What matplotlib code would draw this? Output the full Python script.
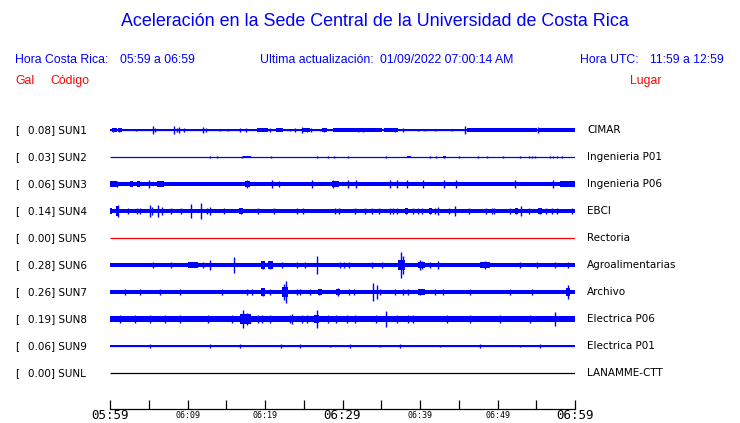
import matplotlib
matplotlib.use("Agg")
import matplotlib.pyplot as plt
from matplotlib.transforms import blended_transform_factory

# ---------------- data ----------------
stations = ["SUN1", "SUN2", "SUN3", "SUN4", "SUN5", "SUN6", "SUN7", "SUN8", "SUN9", "SUNL"]
peaks = [0.08, 0.03, 0.06, 0.14, 0.00, 0.28, 0.26, 0.19, 0.06, 0.00]
places = ["CIMAR", "Ingenieria P01", "Ingenieria P06", "EBCI", "Rectoria",
          "Agroalimentarias", "Archivo", "Electrica P06", "Electrica P01", "LANAMME-CTT"]
trace_colors = ["#0000ff"] * 4 + ["#ff0000"] + ["#0000ff"] * 4 + ["#000000"]
# background noise half-amplitude (in trace units, one trace spacing = 1)
noise = [0.035, 0.0, 0.09, 0.09, 0.0, 0.085, 0.085, 0.1, 0.035, 0.0]

# minutes since 05:59
tick_minutes = [0, 5, 10, 15, 20, 25, 30, 35, 40, 45, 50, 55, 60]
tick_labels = {0: "05:59", 10: "06:09", 20: "06:19", 30: "06:29",
               40: "06:39", 50: "06:49", 60: "06:59"}
major_labels = [0, 30, 60]

# spikes (time in minutes, half-amplitude) and bursts (start, end, half-amplitude)
sun1_t = [0.4, 1.2, 3.4, 5.5, 5.8, 8.3, 8.6, 8.9, 9.5, 12.0, 12.4, 14.2, 15.2, 16.8, 17.5,
          20.6, 23.2, 23.9, 24.8, 25.4, 25.9, 27.1, 27.6, 32.0, 32.6, 34.8, 36.8, 37.8,
          39.7, 40.6, 41.9, 44.1, 45.8, 51.6, 52.9, 55.2]
sun1_a = [0.06, 0.06, 0.04, 0.15, 0.08, 0.15, 0.08, 0.10, 0.06, 0.10, 0.06, 0.05, 0.05,
          0.06, 0.06, 0.06, 0.05, 0.06, 0.10, 0.07, 0.06, 0.05, 0.06, 0.08, 0.06, 0.05,
          0.06, 0.08, 0.05, 0.05, 0.05, 0.05, 0.15, 0.05, 0.05, 0.10]
sun1_b = [(0.3, 0.9, 0.065), (1.0, 1.5, 0.065), (19.0, 20.4, 0.075), (21.4, 22.3, 0.075),
          (24.8, 25.8, 0.075), (27.4, 28.0, 0.065), (28.8, 35.1, 0.075), (35.4, 37.2, 0.075),
          (46.0, 55.1, 0.075), (55.2, 60.0, 0.075)]

sun2_t = [12.9, 13.8, 17.0, 20.8, 26.7, 28.1, 28.9, 30.7, 35.6, 41.3, 42.1, 43.1, 45.0,
          47.5, 48.6, 50.7, 52.9, 54.1, 54.5, 54.8, 56.8, 57.2, 57.7, 58.3]
sun2_a = [0.05, 0.03, 0.05, 0.05, 0.02, 0.05, 0.05, 0.03, 0.03, 0.04, 0.02, 0.05, 0.03,
          0.03, 0.02, 0.03, 0.02, 0.04, 0.04, 0.04, 0.04, 0.03, 0.04, 0.03]
sun2_b = [(17.2, 18.2, 0.045), (38.3, 38.8, 0.045), (43.0, 43.4, 0.045)]

sun3_t = [0.9, 5.0, 17.7, 20.9, 21.8, 26.1, 28.8, 30.7, 31.7, 36.1, 37.0, 38.3, 40.4,
          43.1, 44.6, 52.3, 57.2]
sun3_a = [0.12, 0.13, 0.16, 0.13, 0.12, 0.13, 0.14, 0.13, 0.15, 0.13, 0.14, 0.15, 0.13,
          0.13, 0.15, 0.13, 0.13]
sun3_b = [(0.0, 0.9, 0.1), (2.6, 3.0, 0.1), (3.5, 3.9, 0.1), (6.0, 7.0, 0.1),
          (17.4, 18.0, 0.12), (28.6, 29.6, 0.11), (58.0, 60.0, 0.105)]

sun4_t = [1.0, 2.3, 3.5, 3.9, 5.2, 5.4, 6.2, 6.7, 7.9, 9.2, 10.5, 11.7, 12.5, 12.9, 14.7,
          16.9, 19.1, 21.2, 24.1, 24.9, 29.0, 29.5, 31.6, 32.9, 33.8, 34.7, 36.1, 36.5,
          37.0, 38.2, 39.1, 39.7, 40.3, 41.3, 41.9, 42.3, 43.7, 44.5, 46.3, 48.5, 49.3,
          49.5, 51.6, 52.4, 53.0, 54.1, 55.5, 56.3, 57.0, 57.7, 59.6]
sun4_a = [0.22, 0.12, 0.12, 0.11, 0.22, 0.15, 0.22, 0.15, 0.11, 0.11, 0.25, 0.30, 0.12,
          0.15, 0.11, 0.12, 0.11, 0.11, 0.11, 0.11, 0.12, 0.12, 0.11, 0.11, 0.11, 0.11,
          0.11, 0.11, 0.11, 0.11, 0.11, 0.12, 0.11, 0.12, 0.11, 0.15, 0.11, 0.18, 0.11,
          0.12, 0.11, 0.11, 0.11, 0.11, 0.18, 0.11, 0.12, 0.11, 0.11, 0.11, 0.12]
sun4_b = [(0.0, 0.3, 0.1), (0.8, 1.2, 0.18), (16.6, 17.2, 0.11), (38.0, 38.5, 0.1),
          (41.1, 41.6, 0.11), (52.2, 52.7, 0.1), (55.2, 55.8, 0.11)]

sun5_t, sun5_a, sun5_b = [], [], []

sun6_t = [5.5, 7.9, 12.0, 12.9, 16.0, 19.7, 20.6, 20.9, 22.2, 24.1, 25.2, 26.7, 29.7,
          30.2, 30.8, 33.8, 35.1, 37.5, 37.8, 40.0, 40.3, 41.3, 42.3, 48.4, 52.9, 55.1,
          57.4, 59.1]
sun6_a = [0.1, 0.1, 0.11, 0.20, 0.30, 0.15, 0.15, 0.12, 0.11, 0.1, 0.11, 0.33, 0.1,
          0.1, 0.11, 0.1, 0.1, 0.47, 0.35, 0.20, 0.15, 0.11, 0.15, 0.15, 0.11, 0.11,
          0.11, 0.11]
sun6_b = [(10.1, 11.3, 0.1), (19.5, 20.0, 0.14), (20.4, 21.0, 0.14), (37.2, 38.0, 0.18),
          (39.8, 40.6, 0.11), (47.8, 49.0, 0.1)]

sun7_t = [1.9, 3.9, 6.5, 9.0, 14.5, 17.7, 18.3, 19.7, 20.6, 22.5, 22.7, 24.1, 24.5, 25.8,
          27.0, 29.4, 30.8, 31.5, 33.9, 34.5, 34.8, 36.8, 37.8, 38.5, 40.0, 41.9, 43.0,
          46.5, 51.6, 54.5, 59.1]
sun7_a = [0.11, 0.11, 0.11, 0.11, 0.1, 0.1, 0.1, 0.15, 0.11, 0.30, 0.40, 0.11, 0.11,
          0.11, 0.11, 0.15, 0.11, 0.11, 0.35, 0.25, 0.12, 0.11, 0.11, 0.11, 0.1, 0.1,
          0.1, 0.11, 0.11, 0.11, 0.25]
sun7_b = [(19.5, 20.0, 0.13), (22.2, 23.0, 0.2), (26.8, 27.3, 0.1), (29.1, 29.7, 0.12),
          (39.8, 40.6, 0.1), (58.9, 59.4, 0.14)]

sun8_t = [1.3, 3.2, 5.2, 7.1, 9.0, 12.6, 15.7, 17.2, 17.7, 18.1, 19.1, 19.6, 20.6, 23.2,
          23.5, 24.8, 25.4, 26.7, 28.1, 29.2, 30.6, 31.6, 34.3, 35.6, 37.0, 38.5, 39.1,
          43.5, 46.5, 50.3, 54.2, 57.4]
sun8_a = [0.13, 0.13, 0.13, 0.13, 0.13, 0.13, 0.13, 0.33, 0.22, 0.15, 0.13, 0.13, 0.13,
          0.15, 0.18, 0.13, 0.13, 0.33, 0.13, 0.13, 0.13, 0.13, 0.13, 0.30, 0.13, 0.13,
          0.13, 0.13, 0.13, 0.13, 0.13, 0.25]
sun8_b = [(12.3, 12.9, 0.12), (16.8, 18.2, 0.18), (26.3, 27.0, 0.16), (39.4, 42.5, 0.115),
          (44.0, 47.5, 0.115)]

sun9_t = [5.2, 12.9, 16.8, 22.0, 24.5, 28.4, 31.0, 34.8, 37.4, 42.6, 47.7, 52.9, 55.5]
sun9_a = [0.06, 0.06, 0.06, 0.06, 0.06, 0.05, 0.06, 0.05, 0.06, 0.05, 0.06, 0.05, 0.06]
sun9_b = []

sunl_t, sunl_a, sunl_b = [], [], []

spike_times = [sun1_t, sun2_t, sun3_t, sun4_t, sun5_t, sun6_t, sun7_t, sun8_t, sun9_t, sunl_t]
spike_amps = [sun1_a, sun2_a, sun3_a, sun4_a, sun5_a, sun6_a, sun7_a, sun8_a, sun9_a, sunl_a]
bursts = [sun1_b, sun2_b, sun3_b, sun4_b, sun5_b, sun6_b, sun7_b, sun8_b, sun9_b, sunl_b]

# ---------------- figure ----------------
W, H = 740, 423
fig = plt.figure(figsize=(W / 100, H / 100), dpi=100)
fig.patch.set_facecolor("white")


def fx(x):
    return x / W


def fy(y):
    return 1 - y / H


BLUE = "#0000ff"
RED = "#ff0000"
HEAD = "Liberation Sans"
LAB = "DejaVu Sans"

fig.text(fx(375), fy(22), "Aceleración en la Sede Central de la Universidad de Costa Rica",
         ha="center", va="center", color=BLUE, fontsize=12.9, family=HEAD)
fig.text(fx(15), fy(60), "Hora Costa Rica:", ha="left", va="center", color=BLUE, fontsize=8.8, family=HEAD)
fig.text(fx(120), fy(60), "05:59 a 06:59", ha="left", va="center", color=BLUE, fontsize=8.8, family=HEAD)
fig.text(fx(260), fy(60), "Ultima actualización:", ha="left", va="center", color=BLUE, fontsize=8.8, family=HEAD)
fig.text(fx(380), fy(60), "01/09/2022 07:00:14 AM", ha="left", va="center", color=BLUE, fontsize=8.8, family=HEAD)
fig.text(fx(580), fy(60), "Hora UTC:", ha="left", va="center", color=BLUE, fontsize=8.8, family=HEAD)
fig.text(fx(650), fy(60), "11:59 a 12:59", ha="left", va="center", color=BLUE, fontsize=8.8, family=HEAD)
fig.text(fx(15), fy(81), "Gal", ha="left", va="center", color=RED, fontsize=8.8, family=HEAD)
fig.text(fx(50), fy(81), "Código", ha="left", va="center", color=RED, fontsize=8.8, family=HEAD)
fig.text(fx(630), fy(81), "Lugar", ha="left", va="center", color=RED, fontsize=8.8, family=HEAD)

# plot area: x 110..575 px, y 110..409 px; traces at 130 + 27*i
ax = fig.add_axes([fx(110), fy(409), (575 - 110) / W, (409 - 110) / H])
n = len(stations)
ax.set_xlim(0, 60)
ax.set_ylim(-((409 - 130) / 27), (130 - 110) / 27)

for i in range(n):
    yc = -i
    col = trace_colors[i]
    if noise[i] > 0:
        ax.broken_barh([(0, 60)], (yc - noise[i], 2 * noise[i]), facecolors=col, linewidth=0)
    ax.hlines(yc, 0, 60, colors=col, linewidth=0.9)
    for (t0, t1, a) in bursts[i]:
        ax.broken_barh([(t0, t1 - t0)], (yc - a, 2 * a), facecolors=col, linewidth=0)
    if spike_times[i]:
        ys0 = [yc - a for a in spike_amps[i]]
        ys1 = [yc + a for a in spike_amps[i]]
        ax.vlines(spike_times[i], ys0, ys1, colors=col, linewidth=1.0)

    # labels
    ty = 130 + 27 * i
    fig.text(fx(15), fy(ty), "[", ha="left", va="center", fontsize=7.5, family=LAB)
    fig.text(fx(28), fy(ty), f"{peaks[i]:.2f}] {stations[i]}", ha="left", va="center",
             fontsize=7.5, family=LAB)
    fig.text(fx(587), fy(ty), places[i], ha="left", va="center", fontsize=7.5, family=LAB)

for s in ["top", "left", "right"]:
    ax.spines[s].set_visible(False)
ax.spines["bottom"].set_linewidth(0.9)
ax.set_yticks([])
ax.set_xticks(tick_minutes)
ax.set_xticklabels([])
ax.tick_params(axis="x", direction="in", length=6.8, width=0.9, color="black")
ax.set_facecolor("none")

trans = blended_transform_factory(ax.transData, ax.transAxes)
for m, lab in tick_labels.items():
    big = m in major_labels
    ax.text(m, -6.5 / 299, lab, transform=trans, ha="center", va="center",
            fontsize=9 if big else 6, family="DejaVu Sans Mono", color="black")

fig.savefig("out.png", dpi=100, facecolor="white")
